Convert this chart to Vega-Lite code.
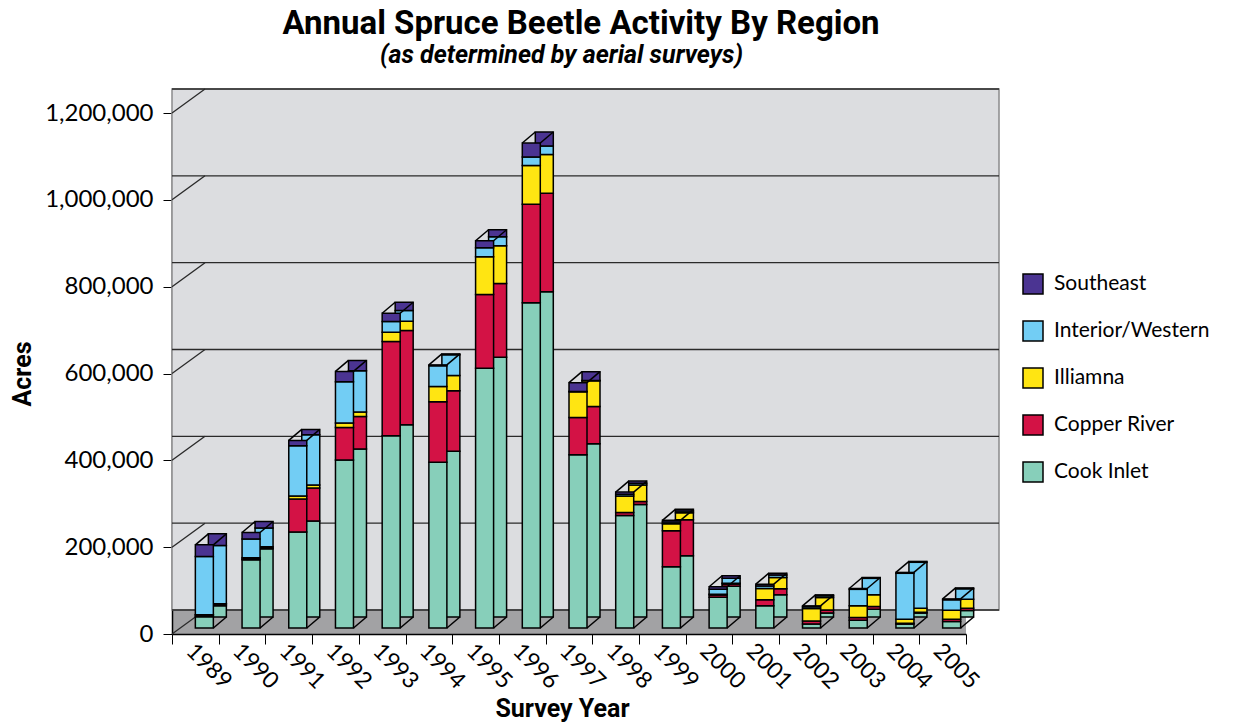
{
  "$schema": "https://vega.github.io/schema/vega-lite/v6.json",
  "width": 794,
  "height": 521,
  "autosize": {"type": "none"},
  "padding": {"left": 172, "top": 113, "right": 285, "bottom": 91},
  "background": "white",
  "title": {
    "text": "Annual Spruce Beetle Activity By Region",
    "subtitle": "(as determined by aerial surveys)\u2800\u2800",
    "anchor": "middle",
    "frame": "group",
    "dx": 12,
    "offset": 20,
    "font": "Liberation Sans Narrow, Roboto, sans-serif",
    "fontSize": 33,
    "fontWeight": "bold",
    "color": "black",
    "subtitleFont": "Liberation Sans Narrow, Roboto, DejaVu Sans, sans-serif",
    "subtitleFontSize": 25,
    "subtitleFontStyle": "italic",
    "subtitleFontWeight": "bold",
    "subtitleColor": "black",
    "subtitlePadding": 2
  },
  "config": {
    "numberFormat": ",",
    "view": {"fill": "#a2a2a4", "stroke": null},
    "axis": {
      "labelFont": "Lato",
      "labelFontSize": 22,
      "labelColor": "black",
      "titleFont": "Liberation Sans Narrow, Roboto, sans-serif",
      "titleFontSize": 25,
      "titleFontWeight": "bold",
      "titleColor": "black",
      "domainColor": "black",
      "tickColor": "black",
      "grid": false
    },
    "axisY": {"labelExpr": "format(datum.value, ',')"}
  },
  "datasets": {
    "beetle": [
      {"year": "1989", "region": "Cook Inlet", "acres": 26000},
      {"year": "1989", "region": "Copper River", "acres": 4000},
      {"year": "1989", "region": "Illiamna", "acres": 500},
      {"year": "1989", "region": "Interior/Western", "acres": 134000},
      {"year": "1989", "region": "Southeast", "acres": 27000},
      {"year": "1990", "region": "Cook Inlet", "acres": 157000},
      {"year": "1990", "region": "Copper River", "acres": 2000},
      {"year": "1990", "region": "Illiamna", "acres": 3000},
      {"year": "1990", "region": "Interior/Western", "acres": 43000},
      {"year": "1990", "region": "Southeast", "acres": 15000},
      {"year": "1991", "region": "Cook Inlet", "acres": 221000},
      {"year": "1991", "region": "Copper River", "acres": 76000},
      {"year": "1991", "region": "Illiamna", "acres": 7000},
      {"year": "1991", "region": "Interior/Western", "acres": 116000},
      {"year": "1991", "region": "Southeast", "acres": 12000},
      {"year": "1992", "region": "Cook Inlet", "acres": 387000},
      {"year": "1992", "region": "Copper River", "acres": 75000},
      {"year": "1992", "region": "Illiamna", "acres": 10000},
      {"year": "1992", "region": "Interior/Western", "acres": 95000},
      {"year": "1992", "region": "Southeast", "acres": 24000},
      {"year": "1993", "region": "Cook Inlet", "acres": 443000},
      {"year": "1993", "region": "Copper River", "acres": 217000},
      {"year": "1993", "region": "Illiamna", "acres": 21000},
      {"year": "1993", "region": "Interior/Western", "acres": 25000},
      {"year": "1993", "region": "Southeast", "acres": 19000},
      {"year": "1994", "region": "Cook Inlet", "acres": 382000},
      {"year": "1994", "region": "Copper River", "acres": 139000},
      {"year": "1994", "region": "Illiamna", "acres": 35000},
      {"year": "1994", "region": "Interior/Western", "acres": 48000},
      {"year": "1994", "region": "Southeast", "acres": 2000},
      {"year": "1995", "region": "Cook Inlet", "acres": 598000},
      {"year": "1995", "region": "Copper River", "acres": 170000},
      {"year": "1995", "region": "Illiamna", "acres": 87000},
      {"year": "1995", "region": "Interior/Western", "acres": 21000},
      {"year": "1995", "region": "Southeast", "acres": 16000},
      {"year": "1996", "region": "Cook Inlet", "acres": 749000},
      {"year": "1996", "region": "Copper River", "acres": 227000},
      {"year": "1996", "region": "Illiamna", "acres": 89000},
      {"year": "1996", "region": "Interior/Western", "acres": 20000},
      {"year": "1996", "region": "Southeast", "acres": 32000},
      {"year": "1997", "region": "Cook Inlet", "acres": 399000},
      {"year": "1997", "region": "Copper River", "acres": 86000},
      {"year": "1997", "region": "Illiamna", "acres": 59000},
      {"year": "1997", "region": "Interior/Western", "acres": 1000},
      {"year": "1997", "region": "Southeast", "acres": 20000},
      {"year": "1998", "region": "Cook Inlet", "acres": 259000},
      {"year": "1998", "region": "Copper River", "acres": 7000},
      {"year": "1998", "region": "Illiamna", "acres": 38000},
      {"year": "1998", "region": "Interior/Western", "acres": 4000},
      {"year": "1998", "region": "Southeast", "acres": 5000},
      {"year": "1999", "region": "Cook Inlet", "acres": 141000},
      {"year": "1999", "region": "Copper River", "acres": 83000},
      {"year": "1999", "region": "Illiamna", "acres": 16000},
      {"year": "1999", "region": "Interior/Western", "acres": 4000},
      {"year": "1999", "region": "Southeast", "acres": 4000},
      {"year": "2000", "region": "Cook Inlet", "acres": 71000},
      {"year": "2000", "region": "Copper River", "acres": 5000},
      {"year": "2000", "region": "Illiamna", "acres": 2000},
      {"year": "2000", "region": "Interior/Western", "acres": 11000},
      {"year": "2000", "region": "Southeast", "acres": 6000},
      {"year": "2001", "region": "Cook Inlet", "acres": 51000},
      {"year": "2001", "region": "Copper River", "acres": 14000},
      {"year": "2001", "region": "Illiamna", "acres": 26000},
      {"year": "2001", "region": "Interior/Western", "acres": 6000},
      {"year": "2001", "region": "Southeast", "acres": 4000},
      {"year": "2002", "region": "Cook Inlet", "acres": 9000},
      {"year": "2002", "region": "Copper River", "acres": 7000},
      {"year": "2002", "region": "Illiamna", "acres": 29000},
      {"year": "2002", "region": "Interior/Western", "acres": 4000},
      {"year": "2002", "region": "Southeast", "acres": 2000},
      {"year": "2003", "region": "Cook Inlet", "acres": 18000},
      {"year": "2003", "region": "Copper River", "acres": 6000},
      {"year": "2003", "region": "Illiamna", "acres": 27000},
      {"year": "2003", "region": "Interior/Western", "acres": 38000},
      {"year": "2003", "region": "Southeast", "acres": 2000},
      {"year": "2004", "region": "Cook Inlet", "acres": 9000},
      {"year": "2004", "region": "Copper River", "acres": 2000},
      {"year": "2004", "region": "Illiamna", "acres": 9000},
      {"year": "2004", "region": "Interior/Western", "acres": 106000},
      {"year": "2004", "region": "Southeast", "acres": 2000},
      {"year": "2005", "region": "Cook Inlet", "acres": 15000},
      {"year": "2005", "region": "Copper River", "acres": 5000},
      {"year": "2005", "region": "Illiamna", "acres": 21000},
      {"year": "2005", "region": "Interior/Western", "acres": 24000},
      {"year": "2005", "region": "Southeast", "acres": 2000}
    ],
    "grid": [
      {"acres": 0}, {"acres": 200000}, {"acres": 400000}, {"acres": 600000},
      {"acres": 800000}, {"acres": 1000000}, {"acres": 1200000}
    ]
  },
  "layer": [
    {
      "data": {"values": [{"wall": "back"}]},
      "mark": {"type": "rect", "fill": "#dcdde0", "stroke": "#8a8a8c", "strokeWidth": 1.5, "xOffset": 33, "x2Offset": 33, "yOffset": -24, "y2Offset": -24},
      "encoding": {
        "y": {
          "datum": 0,
          "type": "quantitative",
          "title": "Acres",
          "scale": {"domain": [0, 1200000], "nice": false},
          "axis": {
            "values": [0, 200000, 400000, 600000, 800000, 1000000, 1200000],
            "labelExpr": "format(datum.value, ',')",
            "labelFontSize": 24,
            "tickSize": 9,
            "labelPadding": 10,
            "titlePadding": 9,
            "domainWidth": 1.5
          }
        },
        "y2": {"datum": 1200000}
      }
    },
    {
      "data": {"name": "grid"},
      "mark": {"type": "rule", "color": "#2a2a2a", "strokeWidth": 1.3, "xOffset": 33, "x2Offset": 33, "yOffset": -24, "y2Offset": -24},
      "encoding": {
        "y": {"field": "acres", "type": "quantitative", "title": "Acres"}
      }
    },
    {
      "data": {"name": "grid"},
      "mark": {"type": "rule", "color": "#2a2a2a", "strokeWidth": 1.3, "x2Offset": 33, "y2Offset": -24},
      "encoding": {
        "x": {"datum": "1989", "type": "nominal", "bandPosition": 0},
        "x2": {"datum": "1989", "bandPosition": 0},
        "y": {"field": "acres", "type": "quantitative", "title": "Acres"},
        "y2": {"field": "acres"}
      }
    },
    {
      "data": {"name": "beetle"},
      "mark": {"type": "bar", "size": 18, "stroke": "black", "strokeWidth": 1.5, "xOffset": 22, "yOffset": -17, "y2Offset": -17},
      "encoding": {
        "x": {"field": "year", "type": "nominal"},
        "y": {"field": "acres", "type": "quantitative", "stack": "zero", "title": "Acres"},
        "color": {"field": "region", "type": "nominal"},
        "order": {"field": "region", "sort": "ascending"}
      }
    },
    {
      "data": {"name": "beetle"},
      "transform": [{"aggregate": [{"op": "sum", "field": "acres", "as": "total"}], "groupby": ["year"]}],
      "mark": {"type": "rule", "color": "black", "strokeWidth": 1.5, "xOffset": 0, "x2Offset": 13, "yOffset": -6, "y2Offset": -17},
      "encoding": {
        "x": {"field": "year", "type": "nominal", "bandPosition": 0.5},
        "x2": {"field": "year", "bandPosition": 0.5},
        "y": {"field": "total", "type": "quantitative", "title": "Acres"},
        "y2": {"field": "total"}
      }
    },
    {
      "data": {"name": "beetle"},
      "transform": [{"aggregate": [{"op": "sum", "field": "acres", "as": "total"}], "groupby": ["year"]}],
      "mark": {"type": "rule", "color": "black", "strokeWidth": 1.5, "xOffset": 18, "x2Offset": 31, "yOffset": -6, "y2Offset": -17},
      "encoding": {
        "x": {"field": "year", "type": "nominal", "bandPosition": 0.5},
        "x2": {"field": "year", "bandPosition": 0.5},
        "y": {"field": "total", "type": "quantitative", "title": "Acres"},
        "y2": {"field": "total"}
      }
    },
    {
      "data": {"name": "beetle"},
      "transform": [{"aggregate": [{"op": "sum", "field": "acres", "as": "total"}], "groupby": ["year"]}],
      "mark": {"type": "rule", "color": "black", "strokeWidth": 1.5, "xOffset": 18, "x2Offset": 31, "yOffset": -6, "y2Offset": -17},
      "encoding": {
        "x": {"field": "year", "type": "nominal", "bandPosition": 0.5},
        "x2": {"field": "year", "bandPosition": 0.5},
        "y": {"datum": 0, "type": "quantitative", "title": "Acres"},
        "y2": {"datum": 0}
      }
    },
    {
      "data": {"name": "beetle"},
      "mark": {"type": "bar", "size": 18, "stroke": "black", "strokeWidth": 1.5, "xOffset": 9, "yOffset": -6, "y2Offset": -6},
      "encoding": {
        "x": {
          "field": "year",
          "type": "nominal",
          "title": "Survey Year",
          "axis": {
            "labelAngle": 45,
            "labelAlign": "left",
            "labelBaseline": "middle",
            "labelFontSize": 23,
            "tickBand": "extent",
            "tickSize": 10,
            "labelPadding": 3,
            "labelOffset": -6,
            "titlePadding": 3,
            "titleX": 390,
            "domainWidth": 1.5
          }
        },
        "y": {
          "field": "acres",
          "type": "quantitative",
          "stack": "zero",
          "title": "Acres"
        },
        "color": {
          "field": "region",
          "type": "nominal",
          "scale": {
            "domain": ["Southeast", "Interior/Western", "Illiamna", "Copper River", "Cook Inlet"],
            "range": ["#4b3492", "#72cdf4", "#ffe512", "#d31245", "#87cfba"]
          },
          "legend": {
            "orient": "none",
            "legendX": 850,
            "legendY": 160,
            "title": null,
            "symbolType": "square",
            "symbolSize": 400,
            "symbolStrokeColor": "black",
            "symbolStrokeWidth": 1.5,
            "labelFont": "Lato",
            "labelFontSize": 21,
            "labelColor": "black",
            "labelOffset": 10,
            "rowPadding": 21
          }
        },
        "order": {"field": "region", "sort": "ascending"}
      }
    }
  ]
}
